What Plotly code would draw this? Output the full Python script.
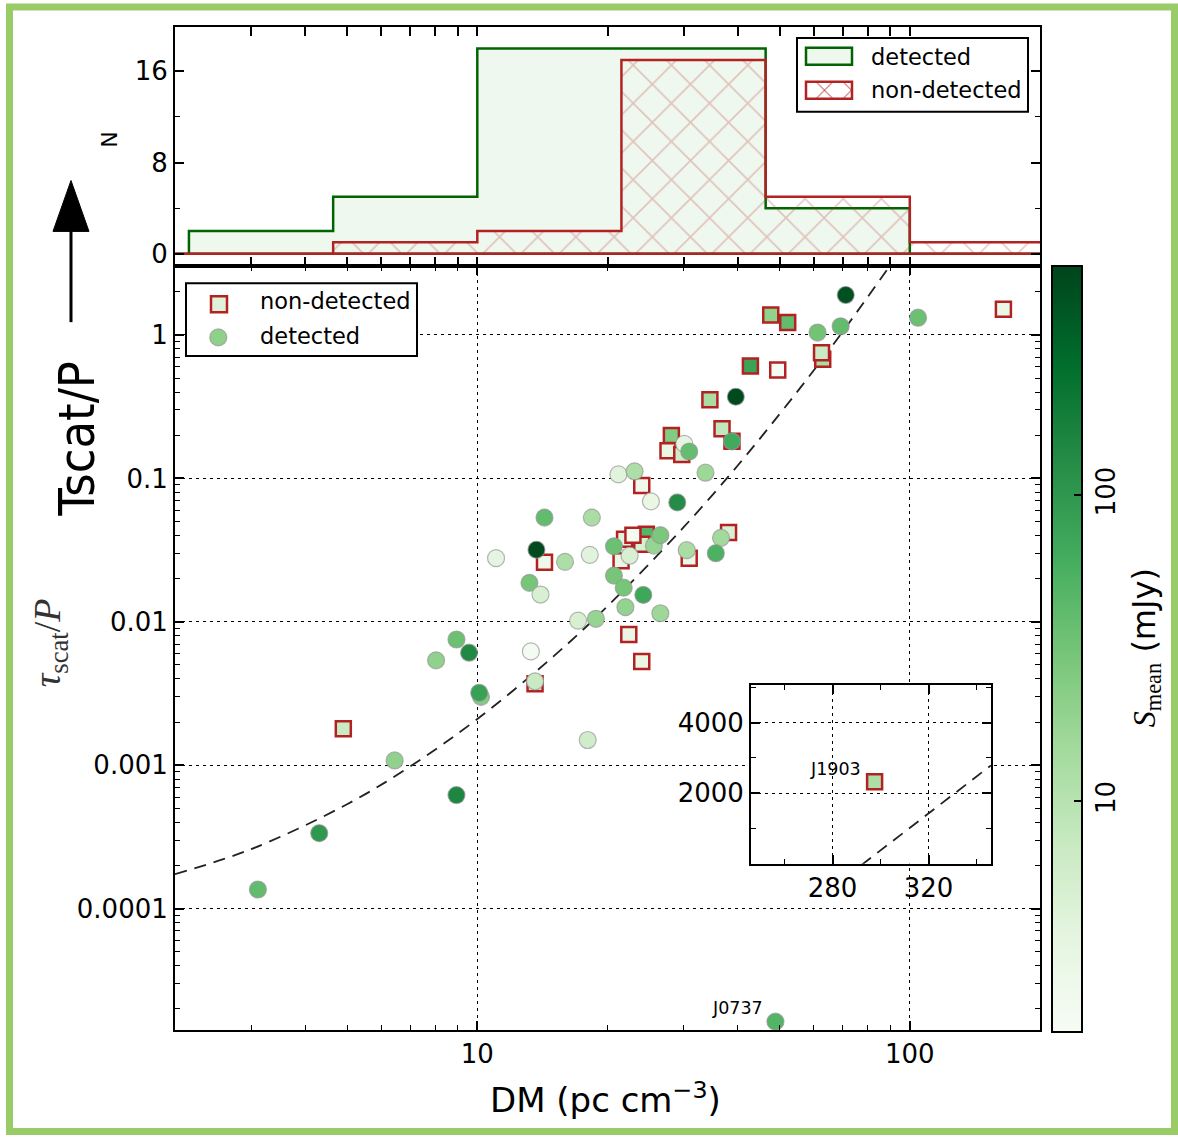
import numpy as np
import plotly.graph_objects as go

W, H = 1178, 1138

# ---------------- data ----------------
hist_edges = [1.0, 2.154, 4.642, 10.0, 21.54, 46.42, 100.0, 215.4]
hist_detected = [0, 2, 5, 18, 18, 4, 0]
hist_nondetected = [0, 0, 1, 2, 17, 5, 1]

det_dm = [3.11, 4.31, 6.44, 8.95, 8.03, 8.95, 9.57, 10.2, 10.1, 13.3,
          13.6, 18.0, 17.1, 18.8, 22.0, 26.5, 24.2, 48.9, 11.05, 14.3,
          13.7, 15.95, 18.4, 18.2, 13.2, 14.0, 21.2, 23.1, 25.2, 20.7,
          22.5, 20.7, 21.8, 25.6, 26.5, 71.1, 61.2, 69.2, 104.5, 39.6,
          38.8, 30.1, 30.9, 33.7, 29.0, 36.6, 35.6, 30.5]
det_tau = [1.36e-4, 3.36e-4, 1.08e-3, 6.19e-4, 5.39e-3, 7.53e-3, 6.09e-3, 3.0e-3, 3.2e-3, 6.22e-3,
           3.85e-3, 1.5e-3, 0.0102, 0.0105, 0.01265, 0.01148, 0.0154, 1.63e-5, 0.0278, 0.0533,
           0.0318, 0.0262, 0.0533, 0.0293, 0.0187, 0.0155, 0.1066, 0.112, 0.0692, 0.0336,
           0.0289, 0.021, 0.0173, 0.034, 0.0402, 1.90, 1.04, 1.15, 1.32, 0.371,
           0.1815, 0.174, 0.154, 0.1096, 0.068, 0.0385, 0.0301, 0.0316]
det_smean = [40, 100, 20, 150, 20, 35, 140, 25, 80, 2,
             7, 6, 5, 18, 19, 16, 70, 50, 3.5, 40,
             500, 12, 13, 4, 30, 5, 4, 12, 3, 35,
             5, 30, 30, 18, 28, 450, 32, 40, 35, 500,
             65, 3.5, 38, 16, 130, 15, 55, 13]

non_dm = [4.90, 13.6, 22.4, 24.0, 14.3, 24.0, 21.5, 21.9, 24.6, 24.0,
          22.9, 47.7, 52.2, 164.6, 62.9, 62.5, 42.8, 49.5, 34.5, 38.8,
          36.8, 28.1, 27.6, 29.7, 38.1, 30.9]
non_tau = [1.80e-3, 3.7e-3, 8.16e-3, 5.28e-3, 0.026, 0.0894, 0.0267, 0.0377, 0.0408, 0.0348,
           0.0402, 1.38, 1.22, 1.51, 0.678, 0.753, 0.609, 0.571, 0.354, 0.1815,
           0.222, 0.199, 0.156, 0.147, 0.042, 0.0278]
non_smean = [7, 6, 3, 3, 2.5, 2.3, 3, 4, 48, 5,
             1.9, 20, 40, 2.8, 13, 7, 75, 1.9, 13, 6,
             8, 25, 3, 6, 5, 2.7]

fit_dm = [2, 3, 5, 7, 10, 15, 20, 30, 40, 50, 60, 70, 80, 90]
fit_tau = [1.74e-4, 2.60e-4, 5.35e-4, 9.82e-4, 2.10e-3, 5.74e-3, 0.01286, 0.0457,
           0.123, 0.281, 0.568, 1.058, 1.85, 3.05]

# inset (J1903)
inset_dm = [297.5]
inset_tau = [2322]
inset_smean = [12]
inset_fit_dm = [292, 346]
inset_fit_tau = [-39, 2787]

s_min, s_max = 1.76, 560.0

# ---------------- helpers ----------------
def px_x(px):
    return px / W


def px_y(py):
    return 1 - py / H


greens = [[0.0, '#f7fcf5'], [0.125, '#e5f5e0'], [0.25, '#c7e9c0'], [0.375, '#a1d99b'],
          [0.5, '#74c476'], [0.625, '#41ab5d'], [0.75, '#238b45'], [0.875, '#006d2c'],
          [1.0, '#00441b']]
RED = '#b22222'
DGREEN = '#006400'
FILLG = '#eff8ee'
HATCH = 'rgba(178,34,34,0.5)'

fig = go.Figure()

# ---------------- histogram ----------------
def step_poly(edges, counts):
    xs = [edges[0]] + list(edges[:-1]) + [edges[-1], edges[0]]
    ys = [0] + list(counts) + [0, 0]
    return xs, ys

hx, hy = step_poly(hist_edges, hist_detected)
fig.add_trace(go.Scatter(x=hx, y=hy, mode='lines', line=dict(color=DGREEN, width=2.5, shape='hv'),
                         fill='toself', fillcolor=FILLG, xaxis='x2', yaxis='y2',
                         showlegend=False, hoverinfo='skip'))
hx, hy = step_poly(hist_edges, hist_nondetected)
fig.add_trace(go.Scatter(x=hx, y=hy, mode='lines', line=dict(color=RED, width=2.5, shape='hv'),
                         fill='toself', fillcolor='rgba(0,0,0,0)',
                         fillpattern=dict(shape='x', size=27, solidity=0.12,
                                          fgcolor=HATCH, bgcolor='rgba(0,0,0,0)'),
                         xaxis='x2', yaxis='y2', showlegend=False, hoverinfo='skip'))

# ---------------- main scatter ----------------
fig.add_trace(go.Scatter(x=fit_dm, y=fit_tau, mode='lines',
                         line=dict(color='#222222', width=1.8, dash='12px,8px', shape='spline'),
                         xaxis='x', yaxis='y', showlegend=False, hoverinfo='skip'))

fig.add_trace(go.Scatter(x=non_dm, y=non_tau, mode='markers', name='non-detected',
                         marker=dict(symbol='square', size=15, color=np.log10(non_smean),
                                     coloraxis='coloraxis', line=dict(color=RED, width=2.5)),
                         xaxis='x', yaxis='y', showlegend=False))
fig.add_trace(go.Scatter(x=det_dm, y=det_tau, mode='markers', name='detected',
                         marker=dict(symbol='circle', size=17, color=np.log10(det_smean),
                                     coloraxis='coloraxis',
                                     line=dict(color='rgba(150,150,150,0.7)', width=1.2)),
                         xaxis='x', yaxis='y', showlegend=False))

# ---------------- inset ----------------
fig.add_trace(go.Scatter(x=inset_fit_dm, y=inset_fit_tau, mode='lines',
                         line=dict(color='#222222', width=1.8, dash='12px,8px'),
                         xaxis='x3', yaxis='y3', showlegend=False, hoverinfo='skip'))
fig.add_trace(go.Scatter(x=inset_dm, y=inset_tau, mode='markers',
                         marker=dict(symbol='square', size=15, color=np.log10(inset_smean),
                                     coloraxis='coloraxis', line=dict(color=RED, width=2.5)),
                         xaxis='x3', yaxis='y3', showlegend=False))

# ---------------- axes ----------------
tickfont = dict(family='DejaVu Sans', size=26, color='black')
frame = dict(showline=True, linecolor='black', linewidth=2, mirror='ticks', ticks='inside',
             tickcolor='black', ticklen=9, tickwidth=1.5, tickfont=tickfont, zeroline=False)
grid = dict(showgrid=True, gridcolor='black', gridwidth=1.2, griddash='3px,4px')

x_minor_vals = [m * 10 ** k for k in range(0, 3) for m in range(2, 10)]
y_minor_vals = [m * 10.0 ** k for k in range(-5, 1) for m in range(2, 10)]

xdom = [px_x(175), px_x(1040)]
fig.update_layout(
    xaxis=dict(domain=xdom, type='log', range=[np.log10(2), np.log10(200)], anchor='y',
               tickvals=[10, 100], ticktext=['10', '100'], **grid, **frame,
               minor=dict(tickmode='array', tickvals=x_minor_vals, ticks='inside', ticklen=5,
                          tickcolor='black', tickwidth=1.2, showgrid=False)),
    yaxis=dict(domain=[px_y(1033), px_y(267)], type='log', range=[-4.848, 0.479], anchor='x',
               tickvals=[1e-4, 1e-3, 1e-2, 1e-1, 1],
               ticktext=['0.0001', '0.001', '0.01', '0.1', '1'], **grid, **frame,
               minor=dict(tickmode='array', tickvals=y_minor_vals, ticks='inside', ticklen=5,
                          tickcolor='black', tickwidth=1.2, showgrid=False)),
    xaxis2=dict(domain=xdom, type='log', matches='x', anchor='y2', showticklabels=False,
                showgrid=False, **frame,
                minor=dict(tickmode='array', tickvals=x_minor_vals, ticks='inside', ticklen=5,
                           tickcolor='black', tickwidth=1.2, showgrid=False)),
    yaxis2=dict(domain=[px_y(267), px_y(27)], range=[-1.1, 19.9], anchor='x2',
                tickvals=[0, 8, 16], showgrid=False, **frame,
                minor=dict(tick0=0, dtick=4, ticks='inside', ticklen=5, tickcolor='black',
                           tickwidth=1.2, showgrid=False)),
    xaxis3=dict(domain=[px_x(751), px_x(991)], range=[246, 346], anchor='y3',
                tickvals=[280, 320], **grid, **frame,
                minor=dict(tick0=0, dtick=20, ticks='inside', ticklen=5, tickcolor='black',
                           tickwidth=1.2, showgrid=False)),
    yaxis3=dict(domain=[px_y(866), px_y(687)], range=[0, 5060], anchor='x3',
                tickvals=[2000, 4000], **grid, **frame,
                minor=dict(tick0=0, dtick=1000, ticks='inside', ticklen=5, tickcolor='black',
                           tickwidth=1.2, showgrid=False)),
    coloraxis=dict(colorscale=greens, cmin=np.log10(s_min), cmax=np.log10(s_max),
                   colorbar=dict(x=px_x(1052), xanchor='left', xpad=0, ypad=0,
                                 y=px_y(267), yanchor='top', len=766, lenmode='pixels',
                                 thickness=30, thicknessmode='pixels',
                                 outlinecolor='black', outlinewidth=2,
                                 tickvals=[1, 2], ticktext=['10', '100'],
                                 ticks='inside', ticklen=9, tickcolor='black', tickwidth=1.5,
                                 tickangle=-90, tickfont=tickfont)),
    width=W, height=H, autosize=False,
    margin=dict(l=0, r=0, t=0, b=0),
    paper_bgcolor='white', plot_bgcolor='white',
    showlegend=False,
)

# ---------------- shapes ----------------
shapes = []
# outer green border
shapes.append(dict(type='rect', xref='paper', yref='paper', x0=px_x(9.5), x1=px_x(1174.5),
                   y0=px_y(1134.5), y1=px_y(7), line=dict(color='#99cc66', width=7),
                   fillcolor='rgba(0,0,0,0)', layer='above'))
# arrow
shapes.append(dict(type='line', xref='paper', yref='paper', x0=px_x(71), x1=px_x(71),
                   y0=px_y(323), y1=px_y(228), line=dict(color='black', width=3)))
shapes.append(dict(type='path', xref='paper', yref='paper',
                   path='M {:.5f},{:.5f} L {:.5f},{:.5f} L {:.5f},{:.5f} Z'.format(
                       px_x(53), px_y(232), px_x(89), px_y(232), px_x(71), px_y(181)),
                   fillcolor='black', line=dict(color='black', width=1)))

# histogram legend
shapes.append(dict(type='rect', xref='paper', yref='paper', x0=px_x(797), x1=px_x(1028),
                   y0=px_y(112), y1=px_y(38), line=dict(color='black', width=2),
                   fillcolor='white'))
shapes.append(dict(type='rect', xref='paper', yref='paper', x0=px_x(806), x1=px_x(852),
                   y0=px_y(65), y1=px_y(48), line=dict(color=DGREEN, width=2.5),
                   fillcolor=FILLG))
sx0, sx1, sy0, sy1 = 806, 852, 82, 99
hh = sy1 - sy0
for c in np.arange(sx0 - hh, sx1 + 1, 27):
    for sign in (1, -1):
        t0 = max(0, sx0 - c)
        t1 = min(hh, sx1 - c)
        if t1 <= t0:
            continue
        if sign == 1:
            p0, p1 = (c + t0, sy1 - t0), (c + t1, sy1 - t1)
        else:
            p0, p1 = (c + t0, sy0 + t0), (c + t1, sy0 + t1)
        shapes.append(dict(type='line', xref='paper', yref='paper',
                           x0=px_x(p0[0]), y0=px_y(p0[1]), x1=px_x(p1[0]), y1=px_y(p1[1]),
                           line=dict(color=HATCH, width=1.2)))
shapes.append(dict(type='rect', xref='paper', yref='paper', x0=px_x(sx0), x1=px_x(sx1),
                   y0=px_y(sy1), y1=px_y(sy0), line=dict(color=RED, width=2.5),
                   fillcolor='rgba(0,0,0,0)'))

# scatter legend
shapes.append(dict(type='rect', xref='paper', yref='paper', x0=px_x(186), x1=px_x(417),
                   y0=px_y(357), y1=px_y(284), line=dict(color='black', width=2),
                   fillcolor='white'))
shapes.append(dict(type='rect', xref='paper', yref='paper', x0=px_x(211), x1=px_x(227),
                   y0=px_y(313), y1=px_y(297), line=dict(color=RED, width=2.5),
                   fillcolor='#dff2d9'))
shapes.append(dict(type='circle', xref='paper', yref='paper', x0=px_x(209.8), x1=px_x(226.8),
                   y0=px_y(346.8), y1=px_y(329.8), line=dict(color='rgba(150,150,150,0.7)', width=1.2),
                   fillcolor='#8fd08b'))
fig.update_layout(shapes=shapes)

# ---------------- annotations ----------------
ann = []
def text(px, py, s, size, family='DejaVu Sans', angle=0, xanchor='center', color='black'):
    ann.append(dict(x=px_x(px), y=px_y(py), xref='paper', yref='paper', text=s,
                    showarrow=False, textangle=angle, xanchor=xanchor, yanchor='middle',
                    font=dict(family=family, size=size, color=color)))

text(869, 57, 'detected', 22.5, xanchor='left')
text(869, 90, 'non-detected', 22.5, xanchor='left')
text(258, 302, 'non-detected', 22.5, xanchor='left')
text(258, 337, 'detected', 22.5, xanchor='left')
text(605, 1101, 'DM (pc cm<sup>−3</sup>)', 34)
text(50, 645, '<i>τ</i><sub>scat</sub>/<i>P</i>', 38, family='Liberation Serif', angle=-90,
     color='#333333')
text(110, 140, 'N', 22, angle=-90)
text(77, 440, 'Tscat/P', 50, family='Liberation Sans Narrow, DejaVu Sans Condensed, Liberation Sans',
     angle=-90)
text(1146, 650, '<span style="font-family:Liberation Serif"><i>S</i><sub>mean</sub></span> (mJy)',
     32, angle=-90)

# point labels
ann.append(dict(x=np.log10(det_dm[17]), y=np.log10(det_tau[17]), xref='x', yref='y',
                text='J0737', showarrow=False, xshift=-38, yshift=14,
                font=dict(family='DejaVu Sans', size=17.5, color='black')))
ann.append(dict(x=inset_dm[0], y=inset_tau[0], xref='x3', yref='y3',
                text='J1903', showarrow=False, xshift=-39, yshift=13,
                font=dict(family='DejaVu Sans', size=17.5, color='black')))
fig.update_layout(annotations=ann)

fig.write_html('out.html')
